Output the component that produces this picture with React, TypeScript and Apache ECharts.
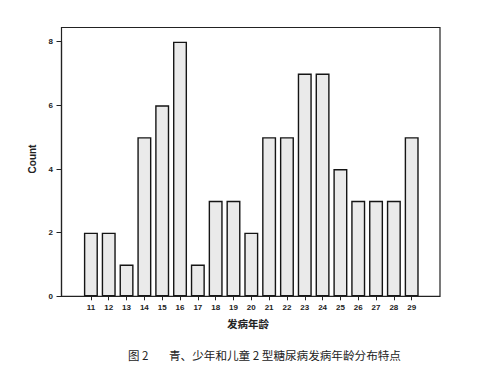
import React, { useEffect, useRef } from "react";
import * as echarts from "echarts";

const categories = ["11", "12", "13", "14", "15", "16", "17", "18", "19", "20", "21", "22", "23", "24", "25", "26", "27", "28", "29"];
const counts = [2, 2, 1, 5, 6, 8, 1, 3, 3, 2, 5, 5, 7, 7, 4, 3, 3, 3, 5];
const yTicks = [0, 2, 4, 6, 8];
const yTitle = "Count";
const xTitle = "发病年龄";
const figLabel = "图 2";
const caption = "青、少年和儿童 2 型糖尿病发病年龄分布特点";

export default function App() {
  const ref = useRef<HTMLDivElement>(null);
  useEffect(() => {
    document.body.style.margin = "0";
    const chart = echarts.init(ref.current!, null, { renderer: "svg" });
    const frameL = 61.5, frameR = 440, frameT = 27.5, frameB = 296.3;
    chart.setOption({
      animation: false,
      backgroundColor: "#ffffff",
      grid: { left: 82, right: 57.4, top: 41.7, bottom: 90.7 },
      xAxis: {
        type: "category",
        data: categories,
        axisLine: { show: false },
        axisTick: { show: true, alignWithLabel: true, length: 4, lineStyle: { color: "#222", width: 1 } },
        axisLabel: { fontSize: 8, fontWeight: "bold", fontFamily: "Liberation Sans, Arial", color: "#222", margin: 7 },
      },
      yAxis: {
        type: "value",
        min: 0,
        max: 8,
        interval: 2,
        offset: 82 - frameL,
        axisLine: { show: true, lineStyle: { color: "#222", width: 1.2 } },
        axisTick: { show: true, length: 5, customValues: yTicks, lineStyle: { color: "#222", width: 1 } },
        axisLabel: { fontSize: 8, fontWeight: "bold", fontFamily: "Liberation Sans, Arial", color: "#222", margin: 8.5, customValues: yTicks },
        splitLine: { show: false },
      },
      series: [
        {
          type: "bar",
          data: counts,
          barWidth: 14,
          itemStyle: { color: "#eaeaea", borderColor: "#151515", borderWidth: 1.4 },
        },
      ],
      graphic: [
        {
          type: "rect",
          shape: { x: frameL, y: frameT, width: frameR - frameL, height: frameB - frameT },
          style: { fill: "none", stroke: "#222", lineWidth: 1.2 },
          z: 10,
        },
        {
          type: "text",
          x: 32,
          y: 159,
          rotation: Math.PI / 2,
          style: { text: yTitle, fontSize: 10, fontWeight: "bold", fontFamily: "Liberation Sans, Arial", fill: "#222", align: "center", verticalAlign: "middle" },
        },
        {
          type: "text",
          x: 248,
          y: 323,
          style: { text: xTitle, fontSize: 10.5, fontWeight: "bold", fontFamily: "Noto Sans CJK SC", fill: "#222", align: "center", verticalAlign: "middle" },
        },
        {
          type: "text",
          x: 128,
          y: 355,
          style: { text: figLabel, fontSize: 11.5, fontFamily: "Noto Sans CJK SC", fill: "#222", align: "left", verticalAlign: "middle" },
        },
        {
          type: "text",
          x: 169,
          y: 355,
          style: { text: caption, fontSize: 11.6, fontFamily: "Noto Sans CJK SC", fill: "#222", align: "left", verticalAlign: "middle" },
        },
      ],
    });
    return () => chart.dispose();
  }, []);
  return <div ref={ref} style={{ width: 478, height: 387 }} />;
}
